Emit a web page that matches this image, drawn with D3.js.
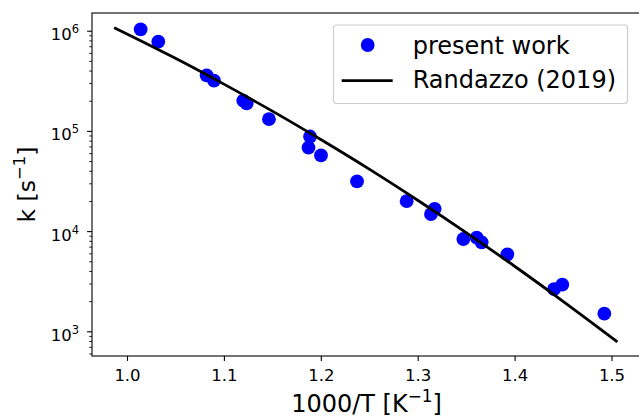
<!DOCTYPE html>
<html>
<head>
<meta charset="utf-8">
<script src="https://cdn.jsdelivr.net/npm/d3@7"></script>
<style>
  body { margin: 0; background: #fff; }
  svg text { font-family: "DejaVu Sans", sans-serif; fill: #000; }
</style>
</head>
<body>
<svg id="chart" width="639" height="420"></svg>
<script>
// measured points (1000/T, k)
var presentX = [1.0141, 1.0323, 1.0822, 1.0898, 1.1200, 1.1235, 1.1465, 1.1889, 1.1873, 1.2002,
                1.2374, 1.2886, 1.3137, 1.3175, 1.3471, 1.3609, 1.3660, 1.3925, 1.4407, 1.4492, 1.4926];
var presentK = [1.03e6, 7.77e5, 3.59e5, 3.17e5, 2.00e5, 1.88e5, 1.31e5, 8.79e4, 6.82e4, 5.69e4,
                3.14e4, 1.99e4, 1.48e4, 1.67e4, 8340, 8590, 7730, 5860, 2640, 2920, 1500];

// Randazzo (2019) curve
var randX = [0.988, 1.0, 1.05, 1.1, 1.15, 1.2, 1.25, 1.3, 1.35, 1.4, 1.45, 1.505];
var randK = [1.057e6, 9.27e5, 5.30e5, 2.93e5, 1.575e5, 8.20e4, 4.15e4, 2.03e4, 9660, 4460, 1995, 800];

var xTicks = [1.0, 1.1, 1.2, 1.3, 1.4, 1.5];
var yTicks = [1e3, 1e4, 1e5, 1e6];
var yExp = ["3", "4", "5", "6"];
var legendLabels = ["present work", "Randazzo (2019)"];

var box = {left: 92, top: 13, right: 641, bottom: 356};

var svg = d3.select("#chart");

var xScale = d3.scaleLinear()
    .domain([1 - 35 / 969, 1 + 514 / 969])
    .range([box.left, box.right]);

var yScale = d3.scaleLog()
    .domain([567, 1.502e6])
    .range([box.bottom, box.top]);

// minor ticks for log axis
var minorTicks = [];
[100, 1000, 10000, 100000, 1000000].forEach(function(d) {
  for (var m = 2; m <= 9; m++) {
    var v = d * m;
    if (v > yScale.domain()[0] && v < yScale.domain()[1]) minorTicks.push(v);
  }
});

// x axis
var xAxis = svg.append("g")
    .attr("transform", "translate(0," + box.bottom + ")")
    .call(d3.axisBottom(xScale).tickValues(xTicks).tickFormat(d3.format(".1f"))
          .tickSize(4.9).tickPadding(8.6).tickSizeOuter(0));
xAxis.select(".domain").remove();
xAxis.selectAll("line").attr("stroke", "#000").attr("stroke-width", 1.1);
xAxis.selectAll("text").attr("font-size", "16.5px").style("font-family", "DejaVu Sans");

// y axis minor
var yMinor = svg.append("g")
    .attr("transform", "translate(" + box.left + ",0)")
    .call(d3.axisLeft(yScale).tickValues(minorTicks).tickFormat("").tickSize(2.8));
yMinor.select(".domain").remove();
yMinor.selectAll("line").attr("stroke", "#000").attr("stroke-width", 0.85);

// y axis major
var yAxis = svg.append("g")
    .attr("transform", "translate(" + box.left + ",0)")
    .call(d3.axisLeft(yScale).tickValues(yTicks).tickFormat("").tickSize(4.9));
yAxis.select(".domain").remove();
yAxis.selectAll("line").attr("stroke", "#000").attr("stroke-width", 1.1);

var yLab = yAxis.selectAll(".tick").append("text")
    .attr("x", -13)
    .attr("y", 9)
    .attr("text-anchor", "end")
    .attr("font-size", "16.5px")
    .style("font-family", "DejaVu Sans")
    .attr("fill", "#000");
yLab.append("tspan").text("10");
yLab.append("tspan")
    .attr("font-size", "11.5px")
    .attr("dy", "-7")
    .text(function(d, i) { return yExp[i]; });

// spines
svg.append("rect")
    .attr("x", box.left).attr("y", box.top)
    .attr("width", box.right - box.left).attr("height", box.bottom - box.top)
    .attr("fill", "none").attr("stroke", "#000").attr("stroke-width", 1.1);

// plot area clip
svg.append("clipPath").attr("id", "clip")
  .append("rect")
    .attr("x", box.left).attr("y", box.top)
    .attr("width", box.right - box.left).attr("height", box.bottom - box.top);

var plot = svg.append("g").attr("clip-path", "url(#clip)");

var presentData = presentX.map(function(x, i) { return {x: x, k: presentK[i]}; });
var randData = randX.map(function(x, i) { return {x: x, k: randK[i]}; });

plot.selectAll("circle")
    .data(presentData)
    .enter()
    .append("circle")
    .attr("cx", function(d) { return xScale(d.x); })
    .attr("cy", function(d) { return yScale(d.k); })
    .attr("r", 6.9)
    .attr("fill", "#0000ff");

var lineGenerator = d3.line()
    .x(function(d) { return xScale(d.x); })
    .y(function(d) { return yScale(d.k); })
    .curve(d3.curveMonotoneX);

plot.append("path")
    .datum(randData)
    .attr("d", lineGenerator)
    .attr("fill", "none")
    .attr("stroke", "#000")
    .attr("stroke-width", 2.8)
    .attr("stroke-linecap", "square");

// axis labels
var xLabel = svg.append("text")
    .attr("x", (box.left + box.right) / 2)
    .attr("y", 412)
    .attr("text-anchor", "middle")
    .attr("font-size", "24px");
xLabel.append("tspan").text("1000/T [K");
xLabel.append("tspan").attr("font-size", "16.8px").attr("dy", -10).text("\u22121");
xLabel.append("tspan").attr("dy", 10).text("]");

var yLabel = svg.append("text")
    .attr("transform", "translate(35," + ((box.top + box.bottom) / 2) + ") rotate(-90)")
    .attr("text-anchor", "middle")
    .attr("font-size", "23.5px");
yLabel.append("tspan").text("k [s");
yLabel.append("tspan").attr("font-size", "16.5px").attr("dy", -10).text("\u22121");
yLabel.append("tspan").attr("dy", 10).text("]");

// legend
var legend = svg.append("g");
legend.append("rect")
    .attr("x", 333.5).attr("y", 25)
    .attr("width", 294).attr("height", 78.5)
    .attr("rx", 3).attr("ry", 3)
    .attr("fill", "#fff").attr("fill-opacity", 0.8)
    .attr("stroke", "#cccccc").attr("stroke-width", 1.1);

legend.append("circle")
    .attr("cx", 367.7).attr("cy", 45)
    .attr("r", 6.9)
    .attr("fill", "#0000ff");

legend.append("line")
    .attr("x1", 341.7).attr("x2", 392.7)
    .attr("y1", 80.7).attr("y2", 80.7)
    .attr("stroke", "#000").attr("stroke-width", 2.8);

legend.selectAll(".legtext")
    .data(legendLabels)
    .enter()
    .append("text")
    .attr("class", "legtext")
    .attr("x", 412.7)
    .attr("y", function(d, i) { return 53.5 + i * 34; })
    .attr("font-size", "24px")
    .text(function(d) { return d; });
</script>
</body>
</html>
